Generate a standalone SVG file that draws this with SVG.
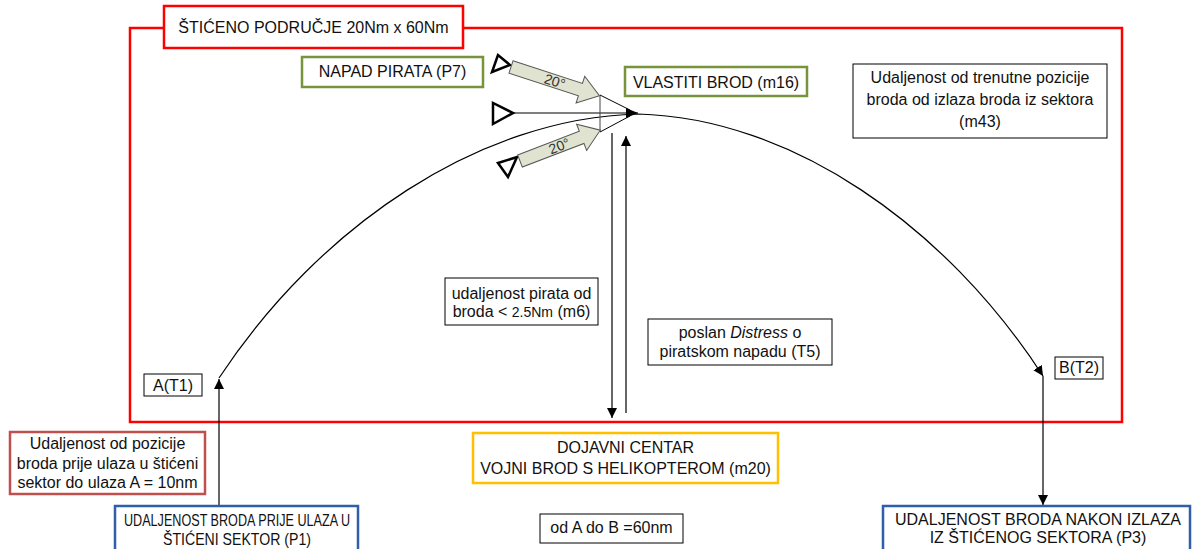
<svg xmlns="http://www.w3.org/2000/svg" width="1192" height="549" viewBox="0 0 1192 549">
<defs>
<style>
text{font-family:"Liberation Sans",Arial,sans-serif;font-size:16px;fill:#111;text-anchor:middle}
.box{fill:#fff;stroke:#000;stroke-width:1}
.red{fill:#fff;stroke:#ff0000;stroke-width:2.5}
.green{fill:#fff;stroke:#77933c;stroke-width:2.5}
.yellow{fill:#fff;stroke:#ffc000;stroke-width:2.5}
.blue{fill:#fff;stroke:#2e5fa8;stroke-width:2.5}
.brown{fill:#fff;stroke:#c0504d;stroke-width:2.5}
.ln{fill:none;stroke:#000;stroke-width:1.2}
.pir{fill:#fff;stroke:#000;stroke-width:2.5;stroke-linejoin:miter}
.blk{fill:#dfe3cf;stroke:#555;stroke-width:1}
.deg{font-size:14px;fill:#333}
.narrow{font-size:17px}
</style>
<marker id="ah" viewBox="0 0 10 10" refX="10" refY="5" markerWidth="10" markerHeight="10" markerUnits="userSpaceOnUse" orient="auto">
<path d="M0,0 L10,5 L0,10 z" fill="#000"/>
</marker>
<marker id="ah2" viewBox="0 0 12 10" refX="12" refY="5" markerWidth="12" markerHeight="10" markerUnits="userSpaceOnUse" orient="auto">
<path d="M0,0 L12,5 L0,10 z" fill="#000"/>
</marker>
</defs>
<rect width="1192" height="549" fill="#fff"/>

<g id="zone">
<rect x="130" y="28" width="992" height="394" fill="none" stroke="#ff0000" stroke-width="2.5"/>
</g>

<g id="connectors">
<path class="ln" d="M219,378 C320,225 480,118 638,114 C791,118 945,225 1043,376" marker-end="url(#ah)"/>
<line class="ln" x1="219" y1="506" x2="219" y2="379" marker-end="url(#ah)"/>
<line class="ln" x1="1043" y1="376" x2="1043" y2="505" marker-end="url(#ah)"/>
<line class="ln" x1="612" y1="133" x2="612" y2="418" marker-end="url(#ah)"/>
<line class="ln" x1="626" y1="413" x2="626" y2="136" stroke="#333" marker-end="url(#ah)"/>
<line class="ln" x1="513" y1="113" x2="638" y2="113" stroke="#333" marker-end="url(#ah2)"/>
</g>

<g id="ship">
<line x1="600" y1="95" x2="600" y2="132" stroke="#444" stroke-width="1"/>
<line x1="600" y1="95" x2="630" y2="110" stroke="#000" stroke-width="1"/>
<line x1="600" y1="132" x2="630" y2="116" stroke="#000" stroke-width="1"/>
</g>

<g id="pirates">
<polygon class="pir" points="498,55 492,72 510,65"/>
<polygon class="pir" points="493,103 493,124 513,113"/>
<polygon class="pir" points="498,163 508,177 517,157"/>
<g transform="translate(511,67) rotate(18)">
<path class="blk" d="M0,-6.5 L73,-6.5 L73,-14 L93,0 L73,14 L73,6.5 L0,6.5 z"/>
<text class="deg" x="46" y="5">20°</text>
</g>
<g transform="translate(520,161) rotate(-21)">
<path class="blk" d="M0,-6.5 L66,-6.5 L66,-14 L86,0 L66,14 L66,6.5 L0,6.5 z"/>
<text class="deg" x="42" y="5">20°</text>
</g>
</g>

<g id="title">
<rect class="red" x="164" y="6" width="299" height="42"/>
<text x="313.5" y="33">ŠTIĆENO PODRUČJE 20Nm x 60Nm</text>
</g>

<g id="p7">
<rect class="green" x="302" y="57" width="181" height="30"/>
<text x="392.5" y="77">NAPAD PIRATA (P7)</text>
</g>

<g id="m16">
<rect class="green" x="625" y="67" width="182" height="29"/>
<text x="716" y="88">VLASTITI BROD (m16)</text>
</g>

<g id="m43">
<rect class="box" x="853" y="64" width="254" height="74"/>
<text x="980" y="83">Udaljenost od trenutne pozicije</text>
<text x="980" y="105">broda od izlaza broda iz sektora</text>
<text x="980" y="127">(m43)</text>
</g>

<g id="m6">
<rect class="box" x="445" y="278" width="153" height="47"/>
<text x="521.5" y="299">udaljenost pirata od</text>
<text x="521.5" y="317">broda &lt; <tspan font-size="14">2.5Nm</tspan> (m6)</text>
</g>

<g id="t5">
<rect class="box" x="648" y="319" width="184" height="46"/>
<text x="740" y="338">poslan <tspan font-style="italic">Distress</tspan> o</text>
<text x="740" y="357">piratskom napadu (T5)</text>
</g>

<g id="t1">
<rect class="box" x="144" y="374" width="58" height="22"/>
<text x="173" y="391">A(T1)</text>
</g>

<g id="t2">
<rect class="box" x="1055" y="357" width="48" height="22"/>
<text x="1079" y="373">B(T2)</text>
</g>

<g id="dist10">
<rect class="brown" x="10" y="432" width="195" height="62"/>
<text x="107.5" y="449">Udaljenost od pozicije</text>
<text x="107.5" y="468.5">broda prije ulaza u štićeni</text>
<text x="107.5" y="488">sektor do ulaza A = 10nm</text>
</g>

<g id="m20">
<rect class="yellow" x="473" y="433" width="305" height="50"/>
<text x="625.5" y="453">DOJAVNI CENTAR</text>
<text x="625.5" y="474">VOJNI BROD S HELIKOPTEROM (m20)</text>
</g>

<g id="ab">
<rect class="box" x="540" y="514" width="143" height="29"/>
<text x="611.5" y="533">od A do B =60nm</text>
</g>

<g id="p1">
<rect class="blue" x="115" y="506" width="243" height="60"/>
<text class="narrow" x="237" y="526" textLength="226" lengthAdjust="spacingAndGlyphs">UDALJENOST BRODA PRIJE ULAZA U</text>
<text class="narrow" x="237" y="545" textLength="148" lengthAdjust="spacingAndGlyphs">ŠTIĆENI SEKTOR (P1)</text>
</g>

<g id="p3">
<rect class="blue" x="883" y="506" width="307" height="60"/>
<text x="1038" y="525">UDALJENOST BRODA NAKON IZLAZA</text>
<text x="1038" y="543">IZ ŠTIĆENOG SEKTORA (P3)</text>
</g>
</svg>
